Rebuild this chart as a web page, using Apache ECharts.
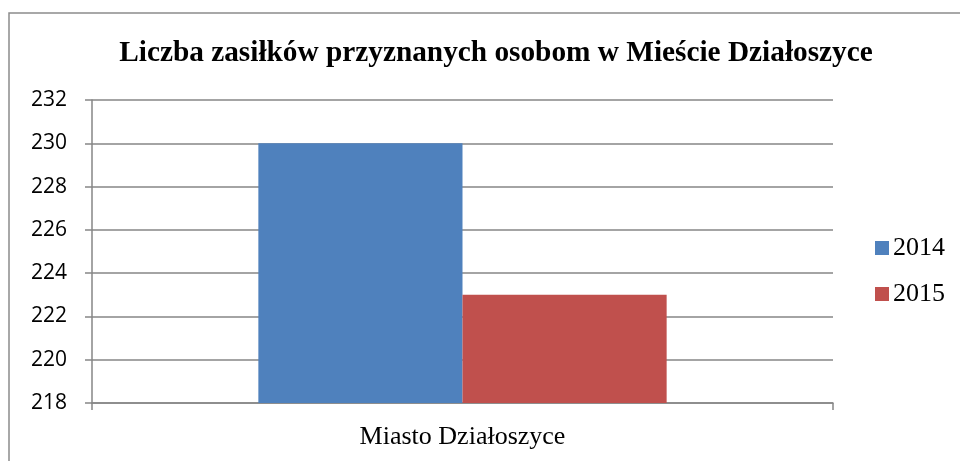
<!DOCTYPE html>
<html>
<head>
<meta charset="utf-8">
<script src="https://cdn.jsdelivr.net/npm/echarts@6/dist/echarts.min.js"></script>
<style>
  html, body { margin: 0; padding: 0; background: #fff; }
  #main { width: 960px; height: 461px; }
</style>
</head>
<body>
<div id="main"></div>
<script>
var categories = ['Miasto Działoszyce'];
var seriesNames = ['2014', '2015'];
var values2014 = [230];
var values2015 = [223];

var chart = echarts.init(document.getElementById('main'));
var option = {
    animation: false,
    // ramka wykresu (tylko lewa i górna krawędź widoczna)
    graphic: [{
        type: 'rect',
        shape: { x: 9, y: 13, width: 1000, height: 500 },
        style: { fill: 'none', stroke: '#8c8c8c', lineWidth: 1.5 }
    }],
    title: {
        text: 'Liczba zasiłków przyznanych osobom w Mieście Działoszyce',
        left: 491,
        textAlign: 'center',
        top: 34,
        textStyle: {
            fontFamily: 'Liberation Serif',
            fontWeight: 'bold',
            fontSize: 29.3,
            color: '#000'
        }
    },
    legend: {
        orient: 'vertical',
        left: 870,
        top: 230,
        itemWidth: 14,
        itemHeight: 14,
        itemGap: 20,
        icon: 'rect',
        textStyle: {
            fontFamily: 'Liberation Serif',
            fontSize: 26,
            color: '#000',
            padding: [0, 0, 0, -1]
        },
        data: seriesNames
    },
    grid: {
        left: 92,
        right: 127,
        top: 100,
        bottom: 58,
        containLabel: false
    },
    xAxis: {
        type: 'category',
        data: categories,
        axisLine: { lineStyle: { color: '#868686', width: 1.5 } },
        axisTick: { show: true, length: 7, lineStyle: { color: '#868686', width: 1.5 } },
        axisLabel: {
            margin: 21,
            fontFamily: 'Liberation Serif',
            fontSize: 26,
            color: '#000'
        }
    },
    yAxis: {
        type: 'value',
        min: 218,
        max: 232,
        interval: 2,
        axisLine: { show: true, lineStyle: { color: '#868686', width: 1.5 } },
        axisTick: { show: true, length: 7, lineStyle: { color: '#868686', width: 1.5 } },
        splitLine: { lineStyle: { color: '#868686', width: 1.5 } },
        axisLabel: {
            margin: 25,
            fontFamily: 'Open Sans',
            fontSize: 21,
            color: '#000'
        }
    },
    series: [
        {
            name: seriesNames[0],
            type: 'bar',
            data: values2014,
            barGap: '0%',
            barCategoryGap: '44.9%',
            itemStyle: { color: '#4F81BD' }
        },
        {
            name: seriesNames[1],
            type: 'bar',
            data: values2015,
            itemStyle: { color: '#C0504D' }
        }
    ]
};
chart.setOption(option);
</script>
</body>
</html>
